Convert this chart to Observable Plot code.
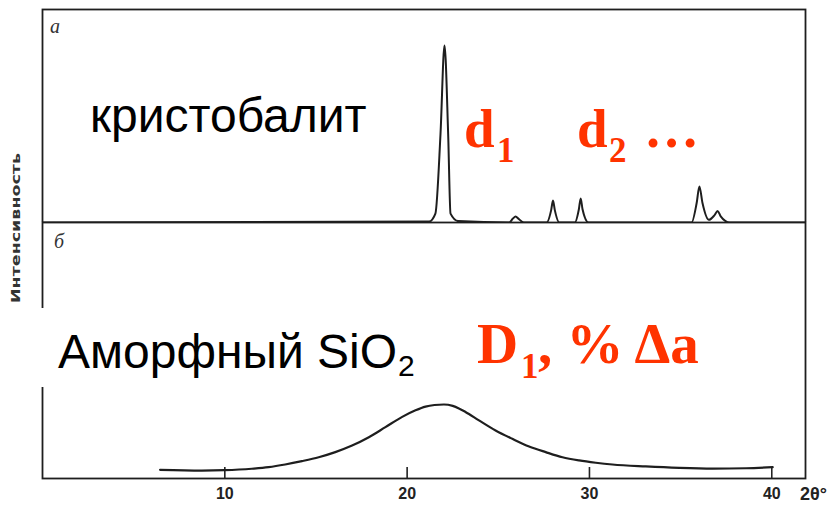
<!DOCTYPE html>
<html><head><meta charset="utf-8">
<script src="https://cdn.jsdelivr.net/npm/d3@7"></script>
<script src="https://cdn.jsdelivr.net/npm/@observablehq/plot@0.6"></script>
<style>
body{margin:0;background:#fff}
#wrap{position:relative;width:838px;height:505px;overflow:hidden}
#wrap svg{display:block}
#ov{position:absolute;left:0;top:0;pointer-events:none}
</style>
</head><body><div id="wrap"></div>
<script>
// Panel а — cristobalite (2θ in degrees, intensity in relative units, main peak = 100)
const cristobaliteTwoTheta = [0, 21.2, 21.55, 21.83, 22.05, 22.25, 22.38, 22.8, 25.6, 25.8, 25.95, 26.1, 26.4, 27.65, 27.9, 28.0, 28.1, 28.35, 29.2, 29.42, 29.52, 29.62, 29.95, 35.6, 35.88, 36.03, 36.2, 36.55, 36.85, 37.03, 37.2, 37.7, 41.85];
const cristobaliteIntensity = [0, 0.5, 5, 50, 100, 50, 5, 0.8, 0, 2.2, 3.4, 2.2, 0, 0, 7, 12.4, 7, 0, 0, 7.5, 13.6, 7.5, 0, 0, 11, 20.3, 11, 1.5, 4, 6.5, 3.5, 0, 0];

// Panel б — amorphous SiO2
const amorphousTwoTheta = [6.45, 8.74, 9.98, 11.48, 12.4, 13.31, 14.23, 15.15, 16.06, 16.98, 17.9, 18.81, 19.73, 20.46, 21.01, 21.5, 22.02, 22.5, 22.84, 23.2, 23.94, 24.85, 25.77, 26.69, 27.6, 28.52, 29.43, 30.35, 31.26, 33.09, 34.93, 36.76, 38.59, 40.05];
const amorphousIntensity = [4.9, 4.5, 4.7, 5.5, 6.4, 7.9, 9.8, 12.0, 14.9, 18.6, 23.3, 29.0, 34.8, 38.5, 40.6, 41.5, 41.8, 41.0, 39.6, 37.6, 32.8, 27.1, 22.4, 18.1, 14.9, 12.0, 10.2, 8.9, 7.9, 6.8, 6.0, 5.6, 5.8, 6.4];

const xTicks = [10, 20, 30, 40];
const xDomain = [0, 41.85];
const panelLabels = ["а", "б"];

const ink = "#1e1e1e";
const red = "#ff3300";
const sans = "'Liberation Sans', Arial, sans-serif";
const serif = "'Liberation Serif', 'Times New Roman', serif";

const toRows = (xs, ys) => xs.map((x, i) => ({x, y: ys[i]}));

const topPlot = Plot.plot({
  width: 838, height: 222,
  marginLeft: 42, marginRight: 33, marginTop: 9, marginBottom: 0,
  x: {domain: xDomain, axis: null},
  y: {domain: [0, 120.3], axis: null},
  marks: [
    Plot.frame({stroke: ink, strokeWidth: 1.8}),
    Plot.line(toRows(cristobaliteTwoTheta, cristobaliteIntensity), {x: "x", y: "y", curve: "monotone-x", stroke: ink, strokeWidth: 2})
  ]
});

const bottomPlot = Plot.plot({
  width: 838, height: 283,
  marginLeft: 42, marginRight: 33, marginTop: 0, marginBottom: 27,
  x: {domain: xDomain},
  y: {domain: [0, 144.6], axis: null},
  style: {fontFamily: sans, fontSize: "16px", color: "#222"},
  marks: [
    Plot.frame({stroke: ink, strokeWidth: 1.8}),
    Plot.axisX(xTicks, {tickSize: -11, tickPadding: 20, strokeWidth: 1.6, label: null, fontSize: 16, fontWeight: "bold"}),
    Plot.line(toRows(amorphousTwoTheta, amorphousIntensity), {x: "x", y: "y", curve: "monotone-x", stroke: ink, strokeWidth: 2.2})
  ]
});

const wrap = document.getElementById("wrap");
wrap.appendChild(topPlot);
wrap.appendChild(bottomPlot);

// Overlay annotations
const ov = d3.create("svg").attr("id", "ov").attr("width", 838).attr("height", 505);
wrap.appendChild(ov.node());
function txt(x, y, s, o = {}) {
  return ov.append("text").attr("x", x).attr("y", y).text(s)
    .attr("font-family", o.family || sans).attr("font-size", o.size || 16)
    .attr("font-weight", o.weight || "normal").attr("font-style", o.style || "normal")
    .attr("fill", o.fill || ink).attr("text-anchor", o.anchor || "start");
}
// white box hiding the frame behind the amorphous label
ov.append("rect").attr("x", 36).attr("y", 308).attr("width", 390).attr("height", 79).attr("fill", "#fff");

// axis title (vertical)
ov.append("text").attr("transform", "translate(20,228) rotate(-90)")
  .attr("text-anchor", "middle").attr("font-family", "'DejaVu Sans', sans-serif")
  .attr("font-weight", "bold").attr("font-size", 13).attr("fill", "#333")
  .attr("textLength", 150).attr("lengthAdjust", "spacingAndGlyphs").text("Интенсивность");

// x unit
txt(800, 500, "2θ°", {size: 18, weight: "bold", fill: "#222"});

// panel letters
txt(50, 33, panelLabels[0], {family: serif, style: "italic", size: 20, fill: "#333"});
txt(54, 248, panelLabels[1], {family: serif, style: "italic", size: 20, fill: "#333"});

// big labels
txt(90, 132, "кристобалит", {size: 48, fill: "#000"});
const amo = txt(58, 368, "Аморфный SiO", {size: 48, fill: "#000"});
const amoEnd = 58 + amo.node().getComputedTextLength();
txt(amoEnd + 1, 376, "2", {size: 30, fill: "#000"});

// red annotations
txt(464, 147, "d", {family: serif, weight: "bold", size: 55, fill: red});
txt(497, 162, "1", {family: serif, weight: "bold", size: 35, fill: red});
txt(577, 147, "d", {family: serif, weight: "bold", size: 55, fill: red});
txt(609, 162, "2", {family: serif, weight: "bold", size: 35, fill: red});
txt(644, 147, "…", {family: serif, weight: "bold", size: 55, fill: red});

txt(477, 363, "D", {family: serif, weight: "bold", size: 57, fill: red});
txt(521, 378, "1", {family: serif, weight: "bold", size: 35, fill: red});
txt(538, 363, ", % Δa", {family: serif, weight: "bold", size: 57, fill: red});
</script>
</body></html>
